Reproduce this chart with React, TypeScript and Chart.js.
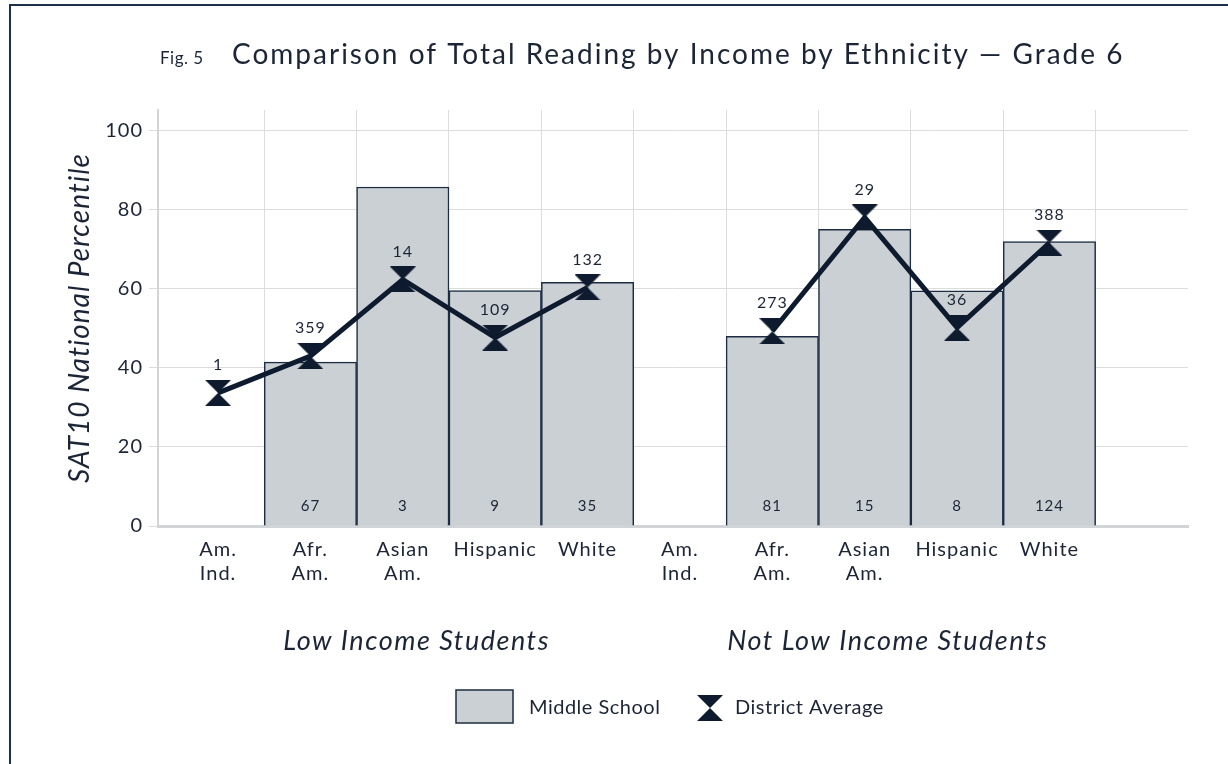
import React, { useEffect, useRef } from 'react';
import { Chart, registerables } from 'chart.js';

Chart.register(...registerables);

const FONT = 'Lato, "Noto Sans", sans-serif';
const NAVY = '#0e1b2f';
const TEXT = '#1b2535';
const GRID = '#dcdcdc';
const AXIS = '#d2d5d8';
const BAR_FILL = '#cbd0d5';
const BAR_EDGE = '#1c2c42';

const groupNames = ['Low Income Students', 'Not Low Income Students'];
const ethnicityLabels = [['Am.', 'Ind.'], ['Afr.', 'Am.'], ['Asian', 'Am.'], ['Hispanic'], ['White']];
const middleSchool = [null, 41.5, 85.8, 59.6, 61.7, null, 48.0, 75.1, 59.5, 72.0];
const districtAverage = [33.7, 43.0, 62.4, 47.7, 60.4, null, 49.3, 78.1, 50.2, 71.7];
const districtCounts = ['1', '359', '14', '109', '132', '', '273', '29', '36', '388'];
const schoolCounts = ['', '67', '3', '9', '35', '', '81', '15', '8', '124'];
const yTickValues = [0, 20, 40, 60, 80, 100];
const titlePrefix = 'Fig. 5';
const titleText = 'Comparison of Total Reading by Income by Ethnicity — Grade 6';
const yAxisTitle = 'SAT10 National Percentile';
const legendLabels = ['Middle School', 'District Average'];

const categoryLabels: string[][] = [];
groupNames.forEach(() => ethnicityLabels.forEach((l) => categoryLabels.push(l)));

function makeHourglass(w: number, h: number, color: string) {
  const c = document.createElement('canvas');
  c.width = w;
  c.height = h;
  const g = c.getContext('2d')!;
  g.fillStyle = color;
  g.beginPath();
  g.moveTo(0, 0);
  g.lineTo(w, 0);
  g.lineTo(w / 2, h / 2);
  g.closePath();
  g.moveTo(w / 2, h / 2);
  g.lineTo(w, h);
  g.lineTo(0, h);
  g.closePath();
  g.fill();
  return c;
}

export default function App() {
  const ref = useRef<HTMLCanvasElement | null>(null);

  useEffect(() => {
    const canvas = ref.current!;
    const hourglass = makeHourglass(26, 26, NAVY);

    const spacing = {
      id: 'spacing',
      beforeUpdate(chart: any) {
        chart.ctx.letterSpacing = '1px';
      },
      beforeDraw(chart: any) {
        chart.ctx.letterSpacing = '1px';
      },
    };

    const annotate = {
      id: 'annotate',
      afterDraw(chart: any) {
        const { ctx } = chart;
        const x = chart.scales.x;
        ctx.save();
        // frame
        ctx.strokeStyle = '#1c3048';
        ctx.lineWidth = 2;
        ctx.beginPath();
        ctx.moveTo(10, 764);
        ctx.lineTo(10, 5);
        ctx.lineTo(1228, 5);
        ctx.stroke();

        // title
        ctx.fillStyle = TEXT;
        ctx.textAlign = 'left';
        ctx.textBaseline = 'alphabetic';
        ctx.letterSpacing = '0.5px';
        ctx.font = `17px ${FONT}`;
        ctx.fillText(titlePrefix, 160, 64);
        ctx.letterSpacing = '2px';
        ctx.font = `28px ${FONT}`;
        ctx.fillText(titleText, 232, 64);

        // counts above district markers
        ctx.letterSpacing = '1px';
        ctx.textAlign = 'center';
        ctx.textBaseline = 'middle';
        ctx.font = `16px ${FONT}`;
        const lineMeta = chart.getDatasetMeta(0);
        lineMeta.data.forEach((pt: any, i: number) => {
          if (districtAverage[i] == null) return;
          ctx.fillText(districtCounts[i], pt.x, pt.y - 28);
        });
        // counts at bar bottoms
        ctx.font = `15px ${FONT}`;
        const barMeta = chart.getDatasetMeta(1);
        barMeta.data.forEach((bar: any, i: number) => {
          if (middleSchool[i] == null) return;
          ctx.fillText(schoolCounts[i], bar.x, bar.base - 19);
        });

        // group labels
        ctx.textBaseline = 'alphabetic';
        ctx.letterSpacing = '1.5px';
        ctx.font = `italic 27px ${FONT}`;
        ctx.fillText(groupNames[0], x.getPixelForValue(2.15), 650);
        ctx.fillText(groupNames[1], x.getPixelForValue(7.25), 650);

        // legend
        ctx.fillStyle = BAR_FILL;
        ctx.fillRect(456, 690, 57, 33);
        ctx.strokeStyle = BAR_EDGE;
        ctx.lineWidth = 1.5;
        ctx.strokeRect(456, 690, 57, 33);
        ctx.fillStyle = TEXT;
        ctx.textAlign = 'left';
        ctx.textBaseline = 'middle';
        ctx.letterSpacing = '0.5px';
        ctx.font = `20px ${FONT}`;
        ctx.fillText(legendLabels[0], 529, 708);
        ctx.drawImage(hourglass, 697, 695, 26, 26);
        ctx.fillText(legendLabels[1], 735, 708);
        ctx.restore();
      },
    };

    const chart = new Chart(canvas, {
      data: {
        datasets: [
          {
            type: 'line',
            label: legendLabels[1],
            data: districtAverage.map((y, i) => ({ x: i, y })),
            borderColor: NAVY,
            backgroundColor: NAVY,
            borderWidth: 5,
            pointStyle: hourglass,
            pointRadius: 13,
            spanGaps: false,
            tension: 0,
            order: 0,
          } as any,
          {
            type: 'bar',
            label: legendLabels[0],
            data: middleSchool.map((y, i) => ({ x: i, y })),
            backgroundColor: BAR_FILL,
            borderColor: BAR_EDGE,
            borderWidth: 1.5,
            barPercentage: 1,
            categoryPercentage: 1,
            order: 1,
          } as any,
        ],
      },
      options: {
        animation: false,
        responsive: false,
        maintainAspectRatio: false,
        layout: { padding: { top: 110, left: 60, right: 40, bottom: 0 } },
        plugins: { legend: { display: false }, tooltip: { enabled: false } },
        scales: {
          x: {
            type: 'linear',
            offset: false,
            min: -0.65,
            max: 10.5,
            afterBuildTicks: (s: any) => {
              s.ticks = categoryLabels.map((_, i) => ({ value: i }));
            },
            afterFit: (s: any) => {
              s.height = 238;
            },
            grid: {
              offset: true,
              drawTicks: false,
              color: (c: any) => (c.index === 0 ? 'rgba(0,0,0,0)' : GRID),
            },
            border: { color: AXIS, width: 3 },
            ticks: {
              autoSkip: false,
              maxRotation: 0,
              minRotation: 0,
              padding: 12,
              color: TEXT,
              font: { family: FONT, size: 20 },
              callback: (v: any) => categoryLabels[v] ?? '',
            },
          } as any,
          y: {
            min: 0,
            max: 105.3,
            afterBuildTicks: (s: any) => {
              s.ticks = yTickValues.map((v) => ({ value: v }));
            },
            afterFit: (s: any) => {
              s.width = 98;
            },
            grid: { color: GRID, tickLength: 9 },
            border: { color: AXIS, width: 2 },
            ticks: { padding: 6, color: TEXT, font: { family: FONT, size: 20 } },
            title: {
              display: true,
              text: yAxisTitle,
              color: TEXT,
              font: { family: FONT, size: 28, style: 'italic' },
              padding: { top: 3, bottom: 0 },
            },
          } as any,
        },
      },
      plugins: [spacing, annotate],
    });
    return () => chart.destroy();
  }, []);

  return (
    <div style={{ position: 'absolute', left: 0, top: 0, width: 1228, height: 764, background: '#fff' }}>
      <canvas ref={ref} width={1228} height={764} style={{ width: 1228, height: 764, display: 'block' }} />
    </div>
  );
}
